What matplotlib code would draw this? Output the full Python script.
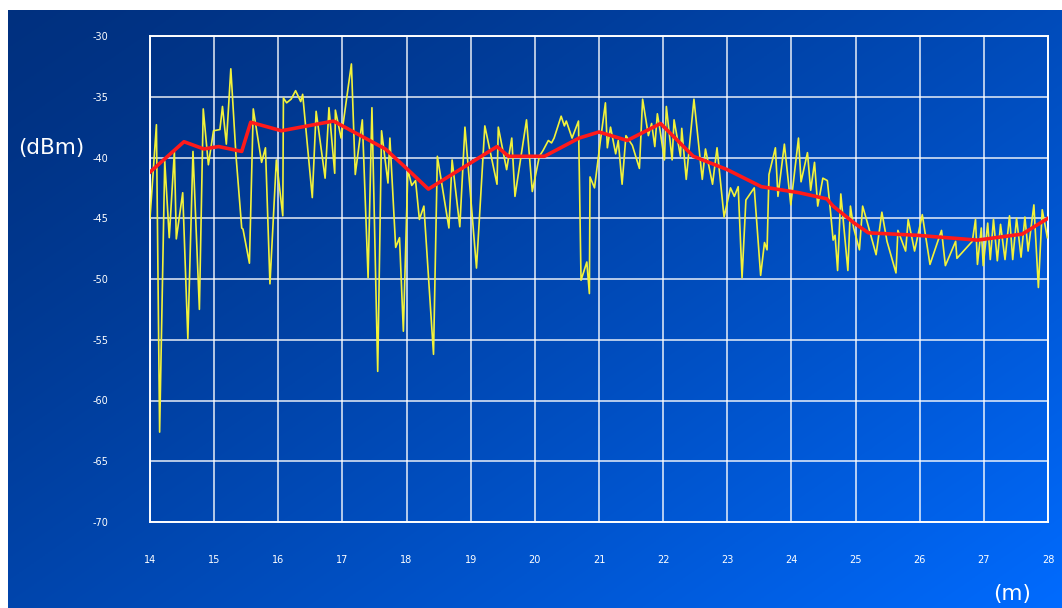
import numpy as np
import matplotlib
matplotlib.use("Agg")
import matplotlib.pyplot as plt

plt.rcParams['axes.unicode_minus'] = False

# raw signal samples (distance in m, level in dBm)
raw_x = [14.00, 14.10, 14.15, 14.23, 14.30, 14.38, 14.41, 14.51, 14.59, 14.67,
         14.77, 14.83, 14.91, 14.99, 15.09, 15.13, 15.19, 15.26, 15.34, 15.43,
         15.45, 15.55, 15.61, 15.74, 15.80, 15.87, 15.97, 16.07, 16.08, 16.13,
         16.20, 16.27, 16.35, 16.38, 16.53, 16.59, 16.73, 16.79, 16.88, 16.89,
         16.98, 17.14, 17.20, 17.31, 17.40, 17.46, 17.55, 17.61, 17.71, 17.74,
         17.83, 17.89, 17.95, 18.02, 18.08, 18.14, 18.20, 18.27, 18.42, 18.48,
         18.66, 18.71, 18.83, 18.91, 19.09, 19.22, 19.41, 19.43, 19.56, 19.64,
         19.69, 19.87, 19.96, 20.07, 20.13, 20.21, 20.26, 20.30, 20.41, 20.46,
         20.49, 20.58, 20.68, 20.72, 20.81, 20.85, 20.86, 20.93, 21.02, 21.10,
         21.13, 21.18, 21.26, 21.30, 21.36, 21.42, 21.52, 21.63, 21.68, 21.77,
         21.82, 21.87, 21.91, 21.95, 22.02, 22.05, 22.14, 22.17, 22.27, 22.29,
         22.36, 22.48, 22.61, 22.66, 22.77, 22.84, 22.95, 23.05, 23.11, 23.17,
         23.23, 23.29, 23.42, 23.52, 23.58, 23.62, 23.65, 23.75, 23.79, 23.89,
         23.99, 24.11, 24.15, 24.25, 24.30, 24.36, 24.41, 24.49, 24.56, 24.61,
         24.65, 24.68, 24.72, 24.77, 24.84, 24.88, 24.92, 24.97, 25.06, 25.11,
         25.17, 25.32, 25.41, 25.49, 25.63, 25.66, 25.78, 25.82, 25.92, 26.04,
         26.16, 26.34, 26.40, 26.56, 26.58, 26.82, 26.87, 26.90, 26.96, 26.99,
         27.06, 27.10, 27.15, 27.21, 27.26, 27.33, 27.40, 27.45, 27.51, 27.58,
         27.64, 27.69, 27.78, 27.85, 27.91, 27.99]
raw_y = [-45.0, -37.3, -62.6, -40.3, -46.6, -39.5, -46.7, -42.9, -54.9, -39.5,
         -52.5, -36.0, -40.6, -37.8, -37.7, -35.8, -38.9, -32.7, -39.8, -45.8,
         -45.9, -48.7, -36.0, -40.4, -39.2, -50.4, -40.2, -44.8, -35.1, -35.5,
         -35.2, -34.5, -35.4, -34.8, -43.3, -36.2, -41.7, -35.9, -41.3, -36.1,
         -38.4, -32.3, -41.4, -36.9, -49.9, -35.9, -57.6, -37.8, -42.1, -38.4,
         -47.4, -46.6, -54.3, -41.0, -42.3, -41.9, -45.1, -44.0, -56.2, -39.9,
         -45.8, -40.2, -45.7, -37.5, -49.1, -37.4, -42.2, -37.5, -41.0, -38.4,
         -43.2, -36.9, -42.8, -39.9, -39.4, -38.6, -38.8, -38.4, -36.6, -37.4,
         -37.0, -38.4, -37.0, -50.1, -48.6, -51.2, -41.6, -42.5, -38.7, -35.5,
         -39.2, -37.5, -39.7, -38.6, -42.2, -38.2, -39.0, -40.9, -35.2, -38.2,
         -37.2, -39.1, -36.4, -37.7, -40.2, -35.8, -40.2, -36.9, -39.9, -37.6,
         -41.8, -35.2, -41.8, -39.3, -42.2, -39.2, -44.9, -42.5, -43.2, -42.4,
         -49.9, -43.5, -42.5, -49.7, -47.0, -47.6, -41.4, -39.2, -43.2, -38.9,
         -43.9, -38.4, -42.0, -39.6, -42.7, -40.4, -44.0, -41.7, -41.9, -44.5,
         -46.8, -46.4, -49.3, -43.0, -47.0, -49.3, -44.0, -45.8, -47.6, -44.0,
         -45.1, -48.0, -44.5, -46.9, -49.5, -46.0, -47.7, -45.1, -47.7, -44.7,
         -48.8, -46.0, -48.9, -46.9, -48.3, -46.9, -45.1, -48.8, -45.8, -48.9,
         -45.4, -48.4, -45.1, -48.5, -45.5, -48.4, -44.8, -48.4, -45.0, -48.2,
         -44.9, -47.7, -43.9, -50.7, -44.3, -46.6]

# smoothed trend
avg_x = [14.0, 14.53, 14.84, 15.07, 15.43, 15.57, 16.05, 16.86, 17.67, 18.0,
         18.34, 19.41, 19.59, 20.15, 20.69, 21.0, 21.44, 21.96, 22.47, 23.0,
         23.53, 24.12, 24.55, 24.65, 24.98, 25.2, 25.95, 26.9, 27.6, 28.0]
avg_y = [-41.2, -38.7, -39.3, -39.1, -39.5, -37.1, -37.8, -37.0, -39.3, -40.9,
         -42.6, -39.1, -39.9, -39.9, -38.4, -37.9, -38.6, -37.2, -39.9, -41.0,
         -42.4, -42.9, -43.4, -44.0, -45.4, -46.2, -46.4, -46.8, -46.3, -45.0]

x_ticks = list(range(14, 29))
y_ticks = list(range(-70, -29, 5))

W, H = 1062, 608
fig = plt.figure(figsize=(W / 100, H / 100), dpi=100)
fig.patch.set_facecolor('white')

# gradient backdrop
bg = fig.add_axes([8 / W, 0, 1 - 8 / W, 1 - 10 / H])
gx, gy = np.meshgrid(np.linspace(0, 1, 400), np.linspace(0, 1, 300))
t = np.clip(0.55 * gx + 0.45 * gy, 0, 1) ** 1.3
c0 = np.array([0.0, 0.19, 0.50])
c1 = np.array([0.0, 0.42, 1.0])
img = c0[None, None, :] * (1 - t[..., None]) + c1[None, None, :] * t[..., None]
bg.imshow(img, aspect='auto', extent=[0, 1, 0, 1], origin='upper')
bg.axis('off')

ax = fig.add_axes([150 / W, (H - 522) / H, 898 / W, 486 / H])
ax.patch.set_alpha(0)
ax.plot(raw_x, raw_y, color='#f2f23a', lw=1.2, zorder=3)
ax.plot(avg_x, avg_y, color='#ff1a1a', lw=2.6, zorder=4)

ax.set_xlim(14, 28)
ax.set_ylim(-70, -30)
ax.set_xticks(x_ticks)
ax.set_yticks(y_ticks)
ax.grid(True, color='white', lw=1.1, alpha=0.9)
for s in ax.spines.values():
    s.set_color('white')
    s.set_linewidth(1.4)
ax.tick_params(length=0, colors='white', labelsize=7)
ax.tick_params(axis='y', pad=30)
ax.tick_params(axis='x', pad=24)

fig.text(18 / W, 1 - 148 / H, '(dBm)', color='white', fontsize=15.5,
         ha='left', va='center')
fig.text(1012 / W, 1 - 594 / H, '(m)', color='white', fontsize=15.5,
         ha='center', va='center')

fig.savefig('out.png', dpi=100)
